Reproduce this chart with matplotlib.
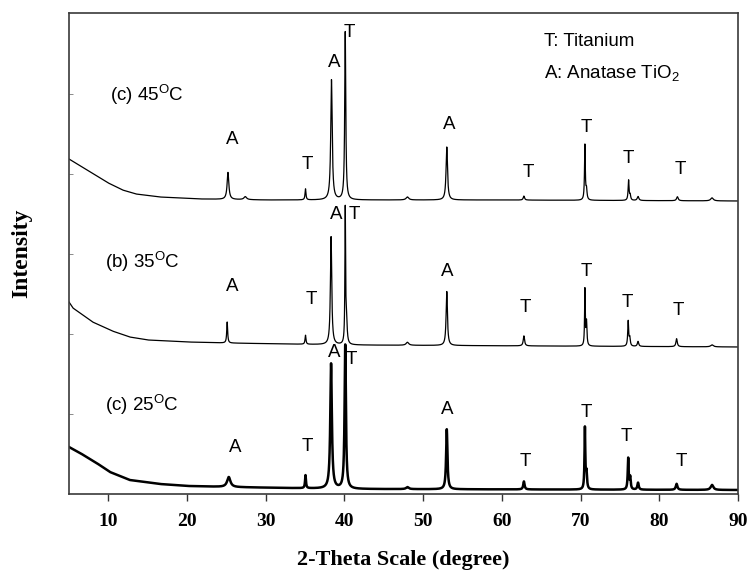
"""XRD patterns of anodised titanium at three bath temperatures (25, 35, 45 C).

Each pattern = read-off background points + read-off reflections
(position, height, half width). Intensity unit is arbitrary.
"""
import numpy as np
import matplotlib
matplotlib.use("Agg")
import matplotlib.pyplot as plt

plt.rcParams["font.family"] = ["Liberation Sans", "DejaVu Sans"]
plt.rcParams["mathtext.fontset"] = "custom"
plt.rcParams["mathtext.rm"] = "Liberation Sans"
plt.rcParams["mathtext.it"] = "Liberation Sans"

# ---- data ----------------------------------------------------------------
# 45 C (top)
bg_2t_45 = [5, 7.7, 10, 11.8, 13.5, 16.5, 21.6, 30, 60, 90]
bg_45 = [335, 322, 311, 304, 300, 297, 295, 294, 294, 293]
pk_pos_45 = [25.2, 27.4, 35.05, 38.35, 40.1, 48.0, 53.0, 62.8, 70.55, 70.75, 76.1, 76.3, 77.3, 82.3, 86.7]
pk_h_45 = [27, 3, 11, 120, 168, 3, 53, 4, 55, 10, 20, 5, 4, 4, 3]
pk_w_45 = [0.13, 0.2, 0.07, 0.11, 0.08, 0.2, 0.11, 0.1, 0.06, 0.08, 0.07, 0.08, 0.12, 0.12, 0.2]

# 35 C (middle)
bg_2t_35 = [5, 5.5, 8, 10.5, 12.7, 15, 20, 25, 40, 90]
bg_35 = [192, 186, 172, 163, 157, 154, 152, 151, 149, 147]
pk_pos_35 = [25.1, 35.05, 38.3, 40.1, 40.25, 48.0, 53.0, 62.8, 70.55, 70.75, 76.05, 76.25, 77.3, 82.2, 86.7]
pk_h_35 = [21, 9, 108, 132, 24, 3, 54, 10, 56, 24, 25, 8, 5, 8, 2]
pk_w_35 = [0.07, 0.07, 0.1, 0.05, 0.1, 0.2, 0.1, 0.1, 0.05, 0.07, 0.07, 0.08, 0.1, 0.1, 0.2]

# 25 C (bottom)
bg_2t_25 = [5, 6.4, 8.5, 10.2, 12.7, 16.5, 20, 25, 40, 90]
bg_25 = [47, 41, 31, 22, 14, 10, 8, 7, 5, 4]
pk_pos_25 = [25.3, 35.05, 38.3, 40.1, 48.0, 53.0, 62.8, 70.55, 70.75, 76.05, 76.3, 77.3, 82.2, 86.7]
pk_h_25 = [10, 13, 125, 144, 2, 60, 8, 61, 16, 31, 12, 7, 6, 5]
pk_w_25 = [0.25, 0.07, 0.12, 0.1, 0.2, 0.1, 0.1, 0.06, 0.08, 0.07, 0.08, 0.1, 0.12, 0.2]

# phase marks above the reflections
mark_txt = ["A", "T", "A", "T", "A", "T", "T", "T", "T"]
mark_2t_45 = [25.8, 35.3, 38.7, 40.6, 53.3, 63.3, 70.75, 76.1, 82.65]
mark_y_45 = [354, 329, 431, 461, 369, 321, 366, 335, 324]
mark_2t_35 = [25.8, 35.8, 38.95, 41.2, 53.1, 63.0, 70.75, 75.95, 82.4]
mark_y_35 = [207, 194, 279, 279, 222, 186, 222, 191, 183]
mark_2t_25 = [26.15, 35.3, 38.7, 40.85, 53.0, 63.0, 70.75, 75.8, 82.8]
mark_y_25 = [46, 47, 141, 134, 84, 32, 81, 57, 32]

sample_txt = [r"(c) 45$^\mathrm{O}$C", r"(b) 35$^\mathrm{O}$C", r"(c) 25$^\mathrm{O}$C"]
xticks = [10, 20, 30, 40, 50, 60, 70, 80, 90]

SERIF_B = dict(family="Liberation Serif", weight="bold")
FS = 13.5


def pattern(x, bg_2t, bg, pos, h, w):
    """background (linear between read points) + Lorentzian reflections."""
    y = np.interp(x, bg_2t, bg)
    for p, a, g in zip(pos, h, w):
        y = y + a / (1 + ((x - p) / g) ** 2)
    return y


def main():
    x = np.linspace(5, 90, 8501)
    fig = plt.figure(figsize=(7.49, 5.75), dpi=100)
    ax = fig.add_axes([0.0921, 0.1409, 0.8932, 0.8365])

    ax.plot(x, pattern(x, bg_2t_45, bg_45, pk_pos_45, pk_h_45, pk_w_45), color="black", lw=0.9)
    ax.plot(x, pattern(x, bg_2t_35, bg_35, pk_pos_35, pk_h_35, pk_w_35), color="black", lw=0.9)
    ax.plot(x, pattern(x, bg_2t_25, bg_25, pk_pos_25, pk_h_25, pk_w_25), color="black", lw=1.8)

    for xs, ys in [(mark_2t_45, mark_y_45), (mark_2t_35, mark_y_35), (mark_2t_25, mark_y_25)]:
        for t, xx, yy in zip(mark_txt, xs, ys):
            ax.text(xx, yy, t, ha="center", va="center", fontsize=FS)

    for t, xx, yy in zip(sample_txt, [10.2, 9.6, 9.6], [399, 232, 89]):
        ax.text(xx, yy, t, ha="left", va="center", fontsize=FS)

    ax.text(65.3, 452, "T: Titanium", ha="left", va="center", fontsize=FS)
    ax.text(65.3, 421, r"A: Anatase TiO$_2$", ha="left", va="center", fontsize=FS)

    ax.set_xlim(5, 90)
    ax.set_ylim(0, 481)
    ax.set_xticks(xticks)
    ax.set_xticklabels([str(v) for v in xticks], fontdict=dict(SERIF_B, size=14))
    ax.set_yticks([80, 160, 240, 320, 400])
    ax.set_yticklabels([])
    ax.tick_params(axis="x", direction="out", length=5, width=1, pad=9, color="#333333")
    ax.tick_params(axis="y", direction="in", length=3, width=0.6, color="#777777")
    for s in ax.spines.values():
        s.set_color("#3a3a3a")
        s.set_linewidth(1.2)

    ax.set_xlabel("2-Theta Scale (degree)", fontdict=dict(SERIF_B, size=16), labelpad=14)
    ax.set_ylabel("Intensity", fontdict=dict(SERIF_B, size=17), labelpad=23)

    fig.savefig("out.png", dpi=100)
    plt.close(fig)


if __name__ == "__main__":
    main()
